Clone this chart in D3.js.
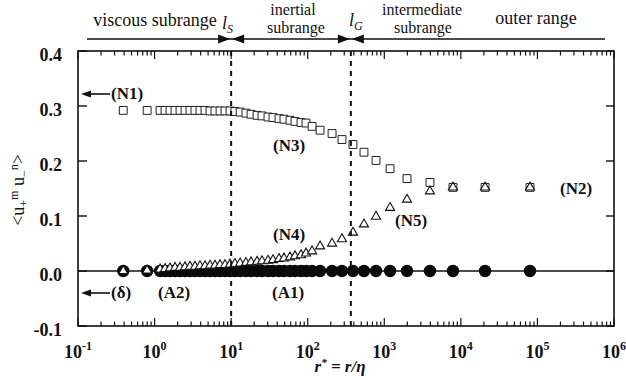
<!DOCTYPE html>
<html lang="en">
<head>
<meta charset="UTF-8">
<title>structure function ratio</title>
<script src="https://d3js.org/d3.v7.min.js"></script>
<style>
    body { margin: 0; background: #fff; }
    svg text { font-family: "Liberation Serif", "Times New Roman", serif; fill: #111; }
</style>
</head>
<body>
<div id="fig"></div>
<script>
    // r* = r/eta, shared by all three series
    let rStar = [0.39, 0.80, 1.18, 1.37, 1.59, 1.85, 2.15, 2.50, 2.90, 3.37, 3.92, 4.56,
        5.30, 6.15, 7.16, 8.32, 9.67, 11.2, 13.1, 15.6, 18.2, 21.8, 25.3, 30.3, 35.2,
        42.2, 49.0, 58.7, 68.2, 81.7, 95.0, 114, 145, 208, 280, 390, 543, 780, 1190,
        1980, 3950, 7890, 20700, 80000];
    // open squares (N1 -> N3 -> N2)
    let squareVals = [0.292, 0.292, 0.292, 0.292, 0.292, 0.292, 0.292, 0.292, 0.292, 0.292,
        0.292, 0.292, 0.291, 0.291, 0.291, 0.291, 0.291, 0.290, 0.289, 0.287, 0.285,
        0.283, 0.282, 0.280, 0.279, 0.277, 0.276, 0.274, 0.272, 0.270, 0.269, 0.263,
        0.256, 0.250, 0.239, 0.230, 0.216, 0.201, 0.186, 0.168, 0.161, 0.152, 0.152, 0.152];
    // open triangles (A2 -> N4 -> N5 -> N2)
    let triangleVals = [0.0, 0.001, 0.003, 0.004, 0.005, 0.006, 0.006, 0.007, 0.008, 0.008,
        0.009, 0.009, 0.010, 0.010, 0.011, 0.011, 0.012, 0.013, 0.014, 0.015, 0.016,
        0.017, 0.018, 0.019, 0.020, 0.022, 0.023, 0.025, 0.027, 0.029, 0.032, 0.036,
        0.045, 0.050, 0.058, 0.070, 0.085, 0.099, 0.115, 0.130, 0.145, 0.152, 0.152, 0.152];
    // filled circles (delta, A1)
    let circleVals = [0, 0, 0, 0, 0, 0, 0, 0, 0, 0, 0, 0, 0, 0, 0, 0, 0, 0, 0, 0, 0, 0,
        0, 0, 0, 0, 0, 0, 0, 0, 0, 0, 0, 0, 0, 0, 0, 0, 0, 0, 0, 0, 0, 0];

    let xDecades = [0.1, 1, 10, 100, 1000, 10000, 100000, 1000000];
    let xExponents = ["-1", "0", "1", "2", "3", "4", "5", "6"];
    let yTicks = [-0.1, 0.0, 0.1, 0.2, 0.3, 0.4];
    let yLabels = ["-0.1", "0.0", "0.1", "0.2", "0.3", "0.4"];
    let lS = 10, lG = 366;

    let W = 626, H = 380;
    let pLeft = 78, pRight = 614, pTop = 51, pBottom = 326;

    let svg = d3.select("#fig").append("svg")
        .attr("width", W).attr("height", H);

    let x = d3.scaleLog().domain([0.1, 1e6]).range([pLeft, pRight]);
    let y = d3.scaleLinear().domain([-0.1, 0.4]).range([pBottom, pTop]);

    let minors = x.ticks().filter(d => !xDecades.some(v => Math.abs(v - d) / v < 1e-6));

    // ticks, pointing into the frame
    function xTicks(yPos, dir) {
        let g = svg.append("g").attr("stroke", "#111").attr("stroke-width", 1.2);
        g.selectAll(".mn").data(minors).join("line")
            .attr("x1", d => x(d)).attr("x2", d => x(d))
            .attr("y1", yPos).attr("y2", yPos + dir * 4.5);
        g.selectAll(".mj").data(xDecades).join("line")
            .attr("x1", d => x(d)).attr("x2", d => x(d))
            .attr("y1", yPos).attr("y2", yPos + dir * 8);
    }
    xTicks(pBottom, -1);
    xTicks(pTop, 1);

    let yg = svg.append("g").attr("stroke", "#111").attr("stroke-width", 1.4);
    yg.selectAll(".l").data(yTicks).join("line")
        .attr("x1", pLeft).attr("x2", pLeft + 9)
        .attr("y1", d => y(d)).attr("y2", d => y(d));
    yg.selectAll(".r").data(yTicks).join("line")
        .attr("x1", pRight).attr("x2", pRight - 8)
        .attr("y1", d => y(d)).attr("y2", d => y(d));

    // zero line
    svg.append("line")
        .attr("x1", pLeft).attr("x2", pRight)
        .attr("y1", y(0)).attr("y2", y(0))
        .attr("stroke", "#111").attr("stroke-width", 1.3);

    // markers
    let pts = rStar.map((r, i) => ({r: r, sq: squareVals[i], tr: triangleVals[i], ci: circleVals[i]}));

    svg.append("g").selectAll("circle").data(pts).join("circle")
        .attr("cx", d => x(d.r)).attr("cy", d => y(d.ci))
        .attr("r", 6.2).attr("fill", "#0a0a0a");

    svg.append("g").selectAll("path").data(pts).join("path")
        .attr("d", d3.symbol(d3.symbolSquare, 62))
        .attr("transform", d => `translate(${x(d.r)},${y(d.sq)})`)
        .attr("fill", "#fff").attr("stroke", "#222").attr("stroke-width", 1);

    svg.append("g").selectAll("path").data(pts).join("path")
        .attr("d", d3.symbol(d3.symbolTriangle, 36))
        .attr("transform", d => `translate(${x(d.r)},${y(d.tr)})`)
        .attr("fill", "#fff").attr("stroke", "#111").attr("stroke-width", 1.1);

    // dashed l_S, l_G
    svg.selectAll(".dash").data([lS, lG]).join("line")
        .attr("x1", d => x(d)).attr("x2", d => x(d))
        .attr("y1", pTop).attr("y2", pBottom)
        .attr("stroke", "#111").attr("stroke-width", 2)
        .attr("stroke-dasharray", "5,5");

    // frame
    svg.append("rect")
        .attr("x", pLeft).attr("y", pTop)
        .attr("width", pRight - pLeft).attr("height", pBottom - pTop)
        .attr("fill", "none").attr("stroke", "#111").attr("stroke-width", 1.6);

    // tick labels
    svg.append("g").selectAll("text").data(yTicks).join("text")
        .attr("x", 62).attr("y", d => y(d) + 10)
        .attr("text-anchor", "end")
        .attr("font-size", 18).attr("font-weight", "bold")
        .text((d, i) => yLabels[i]);

    let xl = svg.append("g").selectAll("text").data(xDecades).join("text")
        .attr("x", d => x(d)).attr("y", 358)
        .attr("text-anchor", "middle")
        .attr("font-size", 18).attr("font-weight", "bold");
    xl.append("tspan").text("10");
    xl.append("tspan").attr("font-size", 12).attr("dy", -8)
        .text((d, i) => xExponents[i]);

    // axis titles
    let xt = svg.append("text").attr("x", 340).attr("y", 372)
        .attr("text-anchor", "middle").attr("font-size", 17)
        .attr("font-style", "italic").attr("font-weight", "bold");
    xt.append("tspan").text("r");
    xt.append("tspan").attr("font-size", 11).attr("dy", -6).text("*");
    xt.append("tspan").attr("dy", 6).text(" = r/\u03b7");

    let yt = svg.append("text")
        .attr("transform", "translate(24,190) rotate(-90)")
        .attr("text-anchor", "middle").attr("font-size", 18);
    yt.append("tspan").text("<u");
    yt.append("tspan").attr("font-size", 12).attr("dy", 4).text("+");
    yt.append("tspan").attr("font-size", 12).attr("dy", -10).text("m");
    yt.append("tspan").attr("dy", 6).text(" u");
    yt.append("tspan").attr("font-size", 12).attr("dy", 4).text("\u2212");
    yt.append("tspan").attr("font-size", 12).attr("dy", -10).text("n");
    yt.append("tspan").attr("dy", 6).text(">");

    // range header
    let hy = 39;
    svg.append("line").attr("x1", 87).attr("x2", 605)
        .attr("y1", hy).attr("y2", hy)
        .attr("stroke", "#111").attr("stroke-width", 1.6);
    function head(xTip, dir) {
        svg.append("path")
            .attr("d", `M${xTip},${hy} L${xTip - dir * 12},${hy - 4.5} L${xTip - dir * 12},${hy + 4.5} Z`)
            .attr("fill", "#111");
    }
    head(x(lS) - 1, 1);
    head(x(lS) + 1, -1);
    head(x(lG) - 1, 1);
    head(x(lG) + 1, -1);

    let headTexts = [
        {t: "viscous subrange", x: 155, y: 26, s: 18},
        {t: "inertial", x: 293, y: 15, s: 16},
        {t: "subrange", x: 296, y: 33, s: 16},
        {t: "intermediate", x: 422, y: 15, s: 16},
        {t: "subrange", x: 423, y: 33, s: 16},
        {t: "outer range", x: 536, y: 24, s: 18}
    ];
    svg.append("g").selectAll("text").data(headTexts).join("text")
        .attr("x", d => d.x).attr("y", d => d.y)
        .attr("text-anchor", "middle").attr("font-size", d => d.s)
        .text(d => d.t);

    function lLabel(xp, yp, sub) {
        let t = svg.append("text").attr("x", xp).attr("y", yp)
            .attr("font-size", 18).attr("font-style", "italic");
        t.append("tspan").text("l");
        t.append("tspan").attr("font-size", 12).attr("dy", 4).text(sub);
    }
    lLabel(222, 29, "S");
    lLabel(349, 26, "G");

    // curve labels
    let notes = [
        {t: "(N1)", x: 111, y: 99, arrow: true},
        {t: "(\u03b4)", x: 111, y: 298, arrow: true},
        {t: "(A2)", x: 158, y: 298},
        {t: "(A1)", x: 272, y: 298},
        {t: "(N3)", x: 273, y: 151},
        {t: "(N4)", x: 273, y: 240},
        {t: "(N5)", x: 395, y: 226},
        {t: "(N2)", x: 560, y: 194}
    ];
    svg.append("g").selectAll("text").data(notes).join("text")
        .attr("x", d => d.x).attr("y", d => d.y)
        .attr("font-size", 17).attr("font-weight", "bold")
        .text(d => d.t);
    notes.filter(d => d.arrow).forEach(d => {
        let ay = d.y - 5;
        svg.append("line").attr("x1", 88).attr("x2", d.x - 1)
            .attr("y1", ay).attr("y2", ay)
            .attr("stroke", "#111").attr("stroke-width", 1.6);
        svg.append("path")
            .attr("d", `M81,${ay} L91,${ay - 3.5} L91,${ay + 3.5} Z`)
            .attr("fill", "#111");
    });
</script>
</body>
</html>
